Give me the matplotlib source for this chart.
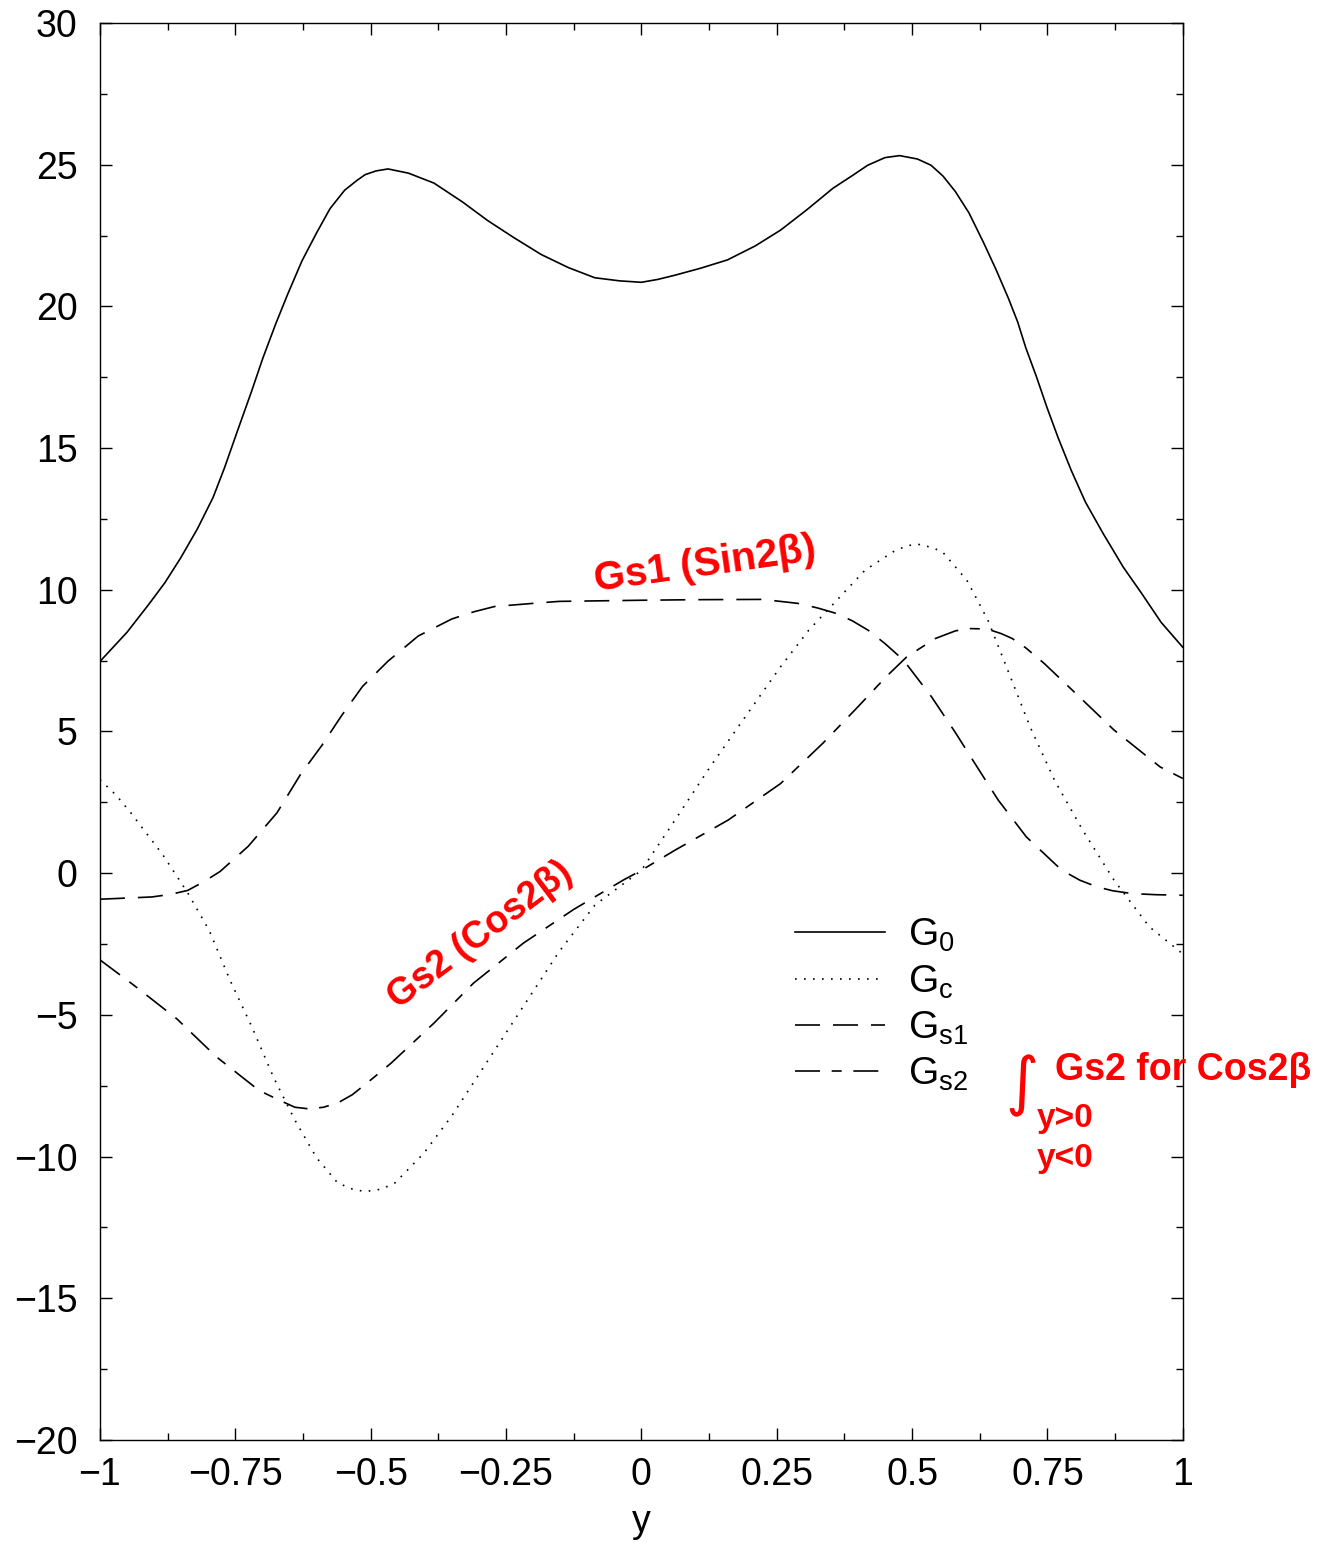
import matplotlib
matplotlib.use("Agg")
import matplotlib.pyplot as plt

plt.rcParams['font.family'] = ['Liberation Sans', 'DejaVu Sans']
plt.rcParams['mathtext.fontset'] = 'custom'
plt.rcParams['mathtext.rm'] = 'Liberation Sans'
plt.rcParams['mathtext.it'] = 'Liberation Sans'

# G0 (solid)
g0_x = [-1.0, -0.95, -0.91, -0.88, -0.851, -0.82, -0.791, -0.77, -0.745, -0.72, -0.699,
        -0.675, -0.653, -0.627, -0.60, -0.575, -0.548, -0.525, -0.51, -0.49, -0.468,
        -0.43, -0.383, -0.33, -0.284, -0.235, -0.185, -0.135, -0.086, -0.04, 0.0, 0.03,
        0.062, 0.11, 0.159, 0.21, 0.257, 0.305, 0.354, 0.39, 0.418, 0.45, 0.477, 0.51,
        0.535, 0.557, 0.58, 0.605, 0.632, 0.655, 0.678, 0.695, 0.71, 0.73, 0.749, 0.77,
        0.794, 0.82, 0.853, 0.89, 0.924, 0.96, 1.0]
g0_y = [7.47, 8.5, 9.48, 10.25, 11.12, 12.15, 13.26, 14.3, 15.66, 17.0, 18.18,
        19.4, 20.44, 21.6, 22.59, 23.45, 24.10, 24.45, 24.65, 24.78, 24.85,
        24.7, 24.35, 23.68, 23.03, 22.42, 21.83, 21.37, 21.01, 20.9, 20.85, 20.95,
        21.10, 21.35, 21.64, 22.13, 22.69, 23.4, 24.17, 24.62, 24.98, 25.25, 25.32, 25.2,
        24.98, 24.6, 24.05, 23.3, 22.25, 21.3, 20.28, 19.45, 18.54, 17.5, 16.44, 15.35,
        14.21, 13.1, 11.98, 10.8, 9.87, 8.85, 7.97]

# Gc (dotted)
gc_x = [-1.0, -0.97, -0.943, -0.884, -0.838, -0.798, -0.759, -0.719, -0.679, -0.640, -0.600,
        -0.561, -0.53, -0.508, -0.48, -0.455, -0.402, -0.350, -0.284, -0.218, -0.152, -0.086,
        0.0, 0.062, 0.127, 0.192, 0.257, 0.309, 0.361, 0.413, 0.465, 0.49, 0.51, 0.535,
        0.556, 0.601, 0.640, 0.679, 0.718, 0.763, 0.815, 0.873, 0.938, 1.0]
gc_y = [3.3, 2.75, 2.13, 0.65, -0.69, -2.03, -3.81, -5.44, -7.22, -8.71, -10.04,
        -10.93, -11.18, -11.23, -11.15, -10.93, -9.89, -8.56, -6.63, -4.70, -2.77, -1.13,
        0.1, 1.87, 3.75, 5.52, 7.28, 8.57, 9.63, 10.69, 11.34, 11.55, 11.61, 11.5,
        11.34, 10.34, 8.93, 7.05, 5.16, 3.28, 1.52, -0.25, -1.89, -2.85]

# Gs1 (dashed)
gs1_x = [-1.0, -0.904, -0.87, -0.838, -0.808, -0.778, -0.726, -0.673, -0.630, -0.590, -0.554,
         -0.515, -0.468, -0.412, -0.350, -0.31, -0.271, -0.2, -0.152, 0.0, 0.1, 0.224, 0.289,
         0.325, 0.361, 0.39, 0.419, 0.45, 0.484, 0.536, 0.581, 0.620, 0.659, 0.711, 0.776,
         0.81, 0.841, 0.87, 0.906, 0.95, 1.0]
gs1_y = [-0.92, -0.84, -0.75, -0.61, -0.3, 0.06, 0.95, 2.13, 3.47, 4.51, 5.55,
         6.59, 7.48, 8.37, 8.97, 9.22, 9.41, 9.52, 9.59, 9.63, 9.65, 9.66, 9.52,
         9.36, 9.16, 8.9, 8.57, 8.1, 7.52, 6.22, 4.93, 3.75, 2.58, 1.28, 0.11,
         -0.25, -0.48, -0.62, -0.72, -0.76, -0.78]

# Gs2 (dash-dot)
gs2_x = [-1.0, -0.937, -0.858, -0.785, -0.706, -0.67, -0.640, -0.613, -0.587, -0.56, -0.534,
         -0.50, -0.462, -0.383, -0.310, -0.218, -0.125, -0.033, 0.0, 0.062, 0.160, 0.257,
         0.335, 0.400, 0.452, 0.490, 0.52, 0.543, 0.580, 0.607, 0.63, 0.646, 0.665, 0.685,
         0.71, 0.744, 0.809, 0.873, 0.958, 1.0]
gs2_y = [-3.06, -3.96, -5.14, -6.48, -7.67, -8.0, -8.26, -8.32, -8.26, -8.1, -7.82,
         -7.3, -6.70, -5.29, -3.88, -2.47, -1.28, -0.24, 0.1, 0.81, 1.87, 3.16,
         4.58, 5.87, 6.93, 7.63, 8.0, 8.28, 8.55, 8.63, 8.62, 8.57, 8.45, 8.28,
         7.95, 7.40, 6.22, 5.05, 3.75, 3.34]

labels = [r'$\mathrm{G}_{0}$', r'$\mathrm{G}_{c}$', r'$\mathrm{G}_{s1}$', r'$\mathrm{G}_{s2}$']
x_ticks = [-1, -0.75, -0.5, -0.25, 0, 0.25, 0.5, 0.75, 1]
x_ticklabels = ['\u22121', '\u22120.75', '\u22120.5', '\u22120.25', '0', '0.25', '0.5', '0.75', '1']
y_ticks = [-20, -15, -10, -5, 0, 5, 10, 15, 20, 25, 30]

fig = plt.figure(figsize=(13.29, 15.43), dpi=100)
ax = fig.add_axes([0.0752, 0.0668, 0.8148, 0.9183])

lw = 1.2
ax.plot(g0_x, g0_y, color='black', lw=lw, label=labels[0])
ax.plot(gc_x, gc_y, color='black', lw=lw, linestyle=(0, (1, 4.4)), label=labels[1])
ax.plot(gs1_x, gs1_y, color='black', lw=lw, linestyle=(0, (15, 7.8)), label=labels[2])
ax.plot(gs2_x, gs2_y, color='black', lw=lw, linestyle=(0, (15, 7, 6, 7)), label=labels[3])

ax.set_xlim(-1, 1)
ax.set_ylim(-20, 30)
ax.set_xticks(x_ticks)
ax.set_xticklabels(x_ticklabels)
ax.set_yticks(y_ticks)
ax.set_xticks([-0.875, -0.625, -0.375, -0.125, 0.125, 0.375, 0.625, 0.875], minor=True)
ax.set_yticks([-17.5, -12.5, -7.5, -2.5, 2.5, 7.5, 12.5, 17.5, 22.5, 27.5], minor=True)
ax.tick_params(which='both', direction='in', top=True, right=True, width=1.0)
ax.tick_params(which='major', length=8.5, labelsize=27)
ax.tick_params(which='minor', length=5)
ax.tick_params(axis='y', pad=16)
ax.tick_params(axis='x', pad=12)
for sp in ax.spines.values():
    sp.set_linewidth(1.0)
ax.set_xlabel('y', fontsize=27, labelpad=8)

ax.legend(loc='upper left', bbox_to_anchor=(0.642, 0.369), frameon=False,
          fontsize=28, handlelength=2.31, handletextpad=0.59, labelspacing=0.23,
          borderpad=0, borderaxespad=0)

# handwritten red notes
red = '#ff0000'
note_font = ['Liberation Sans Narrow', 'Liberation Sans', 'DejaVu Sans']
ax.text(0.117, 10.9, 'Gs1 (Sin2\u03b2)', color=red, fontsize=29, fontweight='bold',
        family=note_font, rotation=8, ha='center', va='center')
ax.text(-0.298, -2.2, 'Gs2 (Cos2\u03b2)', color=red, fontsize=27, fontweight='bold',
        family=note_font, rotation=37, ha='center', va='center')
ax.text(0.703, -7.5, '\u222b', color=red, fontsize=46, family=['DejaVu Sans'],
        ha='center', va='center', clip_on=False)
ax.text(0.764, -6.95, 'Gs2 for Cos2\u03b2', color=red, fontsize=27, fontweight='bold',
        family=note_font, ha='left', va='center', clip_on=False)
ax.text(0.782, -8.65, 'y>0', color=red, fontsize=24, fontweight='bold',
        family=note_font, ha='center', va='center', clip_on=False)
ax.text(0.782, -10.06, 'y<0', color=red, fontsize=24, fontweight='bold',
        family=note_font, ha='center', va='center', clip_on=False)

fig.savefig('out.png', dpi=100)
